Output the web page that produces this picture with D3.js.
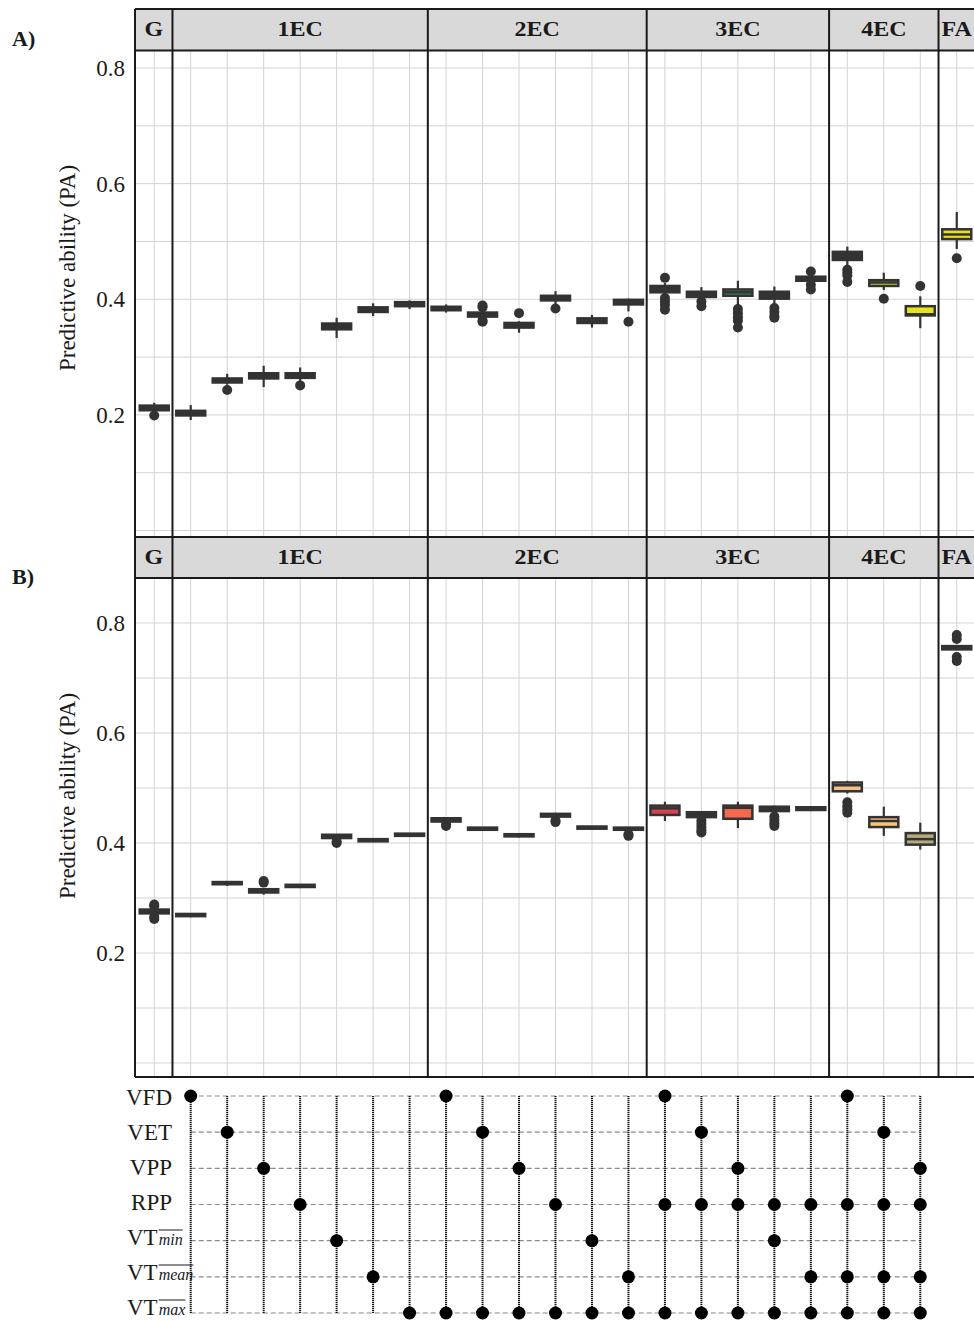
<!DOCTYPE html>
<html>
<head>
<meta charset="utf-8">
<style>
  body { margin: 0; background: #fff; }
  text { font-family: "Liberation Serif", "Times New Roman", serif; fill: #1a1a1a; }
</style>
</head>
<body>
<script src="https://d3js.org/d3.v7.min.js"></script>
<script>
// facet strips and how many boxes sit in each
const facets = ["G", "1EC", "2EC", "3EC", "4EC", "FA"];
const facetSizes = [1, 7, 6, 5, 3, 1];
const traits = ["VFD", "VET", "VPP", "RPP", "VTmin", "VTmean", "VTmax"];
const yTicks = [0.2, 0.4, 0.6, 0.8];

// trait combination behind each box (1EC..4EC columns)
const combos = [
  ["VFD"], ["VET"], ["VPP"], ["RPP"], ["VTmin"], ["VTmean"], ["VTmax"],
  ["VFD", "VTmax"], ["VET", "VTmax"], ["VPP", "VTmax"], ["RPP", "VTmax"], ["VTmin", "VTmax"], ["VTmean", "VTmax"],
  ["VFD", "RPP", "VTmax"], ["VET", "RPP", "VTmax"], ["VPP", "RPP", "VTmax"], ["RPP", "VTmin", "VTmax"], ["RPP", "VTmean", "VTmax"],
  ["VFD", "RPP", "VTmean", "VTmax"], ["VET", "RPP", "VTmean", "VTmax"], ["VPP", "RPP", "VTmean", "VTmax"]
];

// panel A: [low whisker, q1, median, q3, high whisker]
const boxesA = [
  [0.203, 0.208, 0.212, 0.216, 0.221],
  [0.191, 0.199, 0.203, 0.207, 0.217],
  [0.252, 0.256, 0.259, 0.263, 0.271],
  [0.248, 0.263, 0.267, 0.272, 0.285],
  [0.256, 0.264, 0.268, 0.272, 0.282],
  [0.333, 0.348, 0.353, 0.358, 0.368],
  [0.371, 0.378, 0.382, 0.386, 0.393],
  [0.383, 0.388, 0.391, 0.395, 0.398],
  [0.377, 0.381, 0.384, 0.387, 0.391],
  [0.366, 0.370, 0.373, 0.377, 0.380],
  [0.342, 0.351, 0.355, 0.359, 0.362],
  [0.391, 0.398, 0.402, 0.406, 0.414],
  [0.351, 0.359, 0.363, 0.367, 0.373],
  [0.379, 0.391, 0.395, 0.399, 0.401],
  [0.404, 0.412, 0.418, 0.423, 0.428],
  [0.399, 0.404, 0.409, 0.413, 0.421],
  [0.390, 0.406, 0.412, 0.417, 0.432],
  [0.390, 0.401, 0.406, 0.413, 0.422],
  [0.428, 0.432, 0.435, 0.439, 0.442],
  [0.458, 0.468, 0.476, 0.482, 0.491],
  [0.416, 0.423, 0.429, 0.433, 0.446],
  [0.350, 0.372, 0.374, 0.388, 0.405],
  [0.487, 0.504, 0.512, 0.521, 0.551]
];
const outliersA = [
  [0.199], [], [0.243], [], [0.251], [], [], [],
  [], [0.389, 0.386, 0.361, 0.363], [0.376], [0.384], [], [0.361],
  [0.437, 0.402, 0.396, 0.390, 0.382], [0.396, 0.388], [0.383, 0.376, 0.369, 0.363, 0.351], [0.385, 0.378, 0.371, 0.368], [0.448, 0.425, 0.417],
  [0.451, 0.446, 0.441, 0.430], [0.401], [0.423],
  [0.471]
];

// panel B
const boxesB = [
  [0.269, 0.272, 0.276, 0.279, 0.281],
  [0.265, 0.267, 0.269, 0.271, 0.272],
  [0.322, 0.325, 0.327, 0.329, 0.331],
  [0.306, 0.310, 0.313, 0.316, 0.318],
  [0.318, 0.320, 0.322, 0.324, 0.325],
  [0.406, 0.409, 0.412, 0.415, 0.416],
  [0.402, 0.403, 0.405, 0.407, 0.408],
  [0.412, 0.413, 0.415, 0.417, 0.418],
  [0.437, 0.439, 0.442, 0.445, 0.446],
  [0.422, 0.424, 0.426, 0.428, 0.429],
  [0.410, 0.412, 0.414, 0.416, 0.417],
  [0.445, 0.448, 0.451, 0.453, 0.455],
  [0.424, 0.426, 0.428, 0.430, 0.431],
  [0.421, 0.424, 0.426, 0.428, 0.429],
  [0.440, 0.451, 0.463, 0.468, 0.475],
  [0.443, 0.447, 0.452, 0.456, 0.458],
  [0.427, 0.444, 0.464, 0.468, 0.475],
  [0.456, 0.458, 0.462, 0.466, 0.468],
  [0.458, 0.460, 0.463, 0.465, 0.466],
  [0.490, 0.494, 0.505, 0.510, 0.513],
  [0.413, 0.429, 0.440, 0.447, 0.466],
  [0.388, 0.397, 0.407, 0.418, 0.437],
  [0.751, 0.752, 0.755, 0.758, 0.760]
];
const outliersB = [
  [0.288, 0.285, 0.266, 0.262], [], [], [0.331, 0.328], [], [0.400, 0.403], [], [],
  [0.431, 0.434], [], [], [0.438, 0.441], [], [0.413, 0.416],
  [], [0.441, 0.435, 0.429, 0.423, 0.419], [], [0.448, 0.442, 0.436, 0.431], [],
  [0.474, 0.467, 0.461, 0.455], [], [],
  [0.778, 0.771, 0.738, 0.731]
];

// box fill per column
const fillA = ["#333", "#333", "#333", "#333", "#333", "#333", "#333", "#333",
  "#333", "#333", "#333", "#333", "#333", "#333",
  "#333", "#333", "#3f8c55", "#333", "#333",
  "#333", "#c6d42c", "#e8e31b", "#e6dd1e"];
const fillB = ["#333", "#333", "#333", "#333", "#333", "#333", "#333", "#333",
  "#333", "#333", "#333", "#333", "#333", "#333",
  "#d8434f", "#333", "#f26a4b", "#333", "#333",
  "#f8bf86", "#fbc57a", "#b7ab7c", "#333"];

const W = 974, H = 1322;
const svg = d3.select("body").append("svg").attr("width", W).attr("height", H);

// one id per box column
const cols = [];
facets.forEach((f, i) => { for (let k = 0; k < facetSizes[i]; k++) cols.push(f + "-" + k); });
const x = d3.scaleBand().domain(cols).range([136, 975]);
const bw = x.bandwidth();
const cx = c => x(c) + bw / 2;
const boxW = 29;

// facet edges
const facetStart = [];
let idx = 0;
facets.forEach((f, i) => { facetStart.push(x(cols[idx])); idx += facetSizes[i]; });

function drawPanel(cfg) {
  const g = svg.append("g");
  const y = d3.scaleLinear().domain([0, 0.8]).range(cfg.yRange);

  // grid
  g.selectAll(".hg").data(d3.range(0, 9).map(d => d / 10)).join("line")
    .attr("x1", 135).attr("x2", 975)
    .attr("y1", d => y(d)).attr("y2", d => y(d))
    .attr("stroke", "#d3d3d3").attr("stroke-width", 1);
  g.selectAll(".vg").data(cols).join("line")
    .attr("x1", d => cx(d)).attr("x2", d => cx(d))
    .attr("y1", cfg.headBottom).attr("y2", cfg.bottom)
    .attr("stroke", "#d3d3d3").attr("stroke-width", 1);

  // boxes
  const bx = g.selectAll(".box").data(cols).join("g");
  bx.append("line")
    .attr("x1", d => cx(d)).attr("x2", d => cx(d))
    .attr("y1", (d, i) => y(cfg.boxes[i][0])).attr("y2", (d, i) => y(cfg.boxes[i][4]))
    .attr("stroke", "#333").attr("stroke-width", 2.2);
  bx.append("rect")
    .attr("x", d => cx(d) - boxW / 2).attr("width", boxW)
    .attr("y", (d, i) => y(cfg.boxes[i][3]))
    .attr("height", (d, i) => y(cfg.boxes[i][1]) - y(cfg.boxes[i][3]))
    .attr("fill", (d, i) => cfg.fills[i])
    .attr("stroke", "#333").attr("stroke-width", 2.5);
  bx.append("line")
    .attr("x1", d => cx(d) - boxW / 2).attr("x2", d => cx(d) + boxW / 2)
    .attr("y1", (d, i) => y(cfg.boxes[i][2])).attr("y2", (d, i) => y(cfg.boxes[i][2]))
    .attr("stroke", "#333").attr("stroke-width", 2.5);
  bx.each(function(d, i) {
    d3.select(this).selectAll("circle").data(cfg.outliers[i]).join("circle")
      .attr("cx", cx(d)).attr("cy", v => y(v)).attr("r", 5)
      .attr("fill", "#333");
  });

  // strip headers
  facets.forEach((f, i) => {
    const x0 = i === 0 ? 135 : facetStart[i];
    const x1 = facetStart[i] + facetSizes[i] * bw;
    g.append("rect").attr("x", x0).attr("y", cfg.headTop)
      .attr("width", x1 - x0).attr("height", cfg.headBottom - cfg.headTop)
      .attr("fill", "#d9d9d9");
    const tx = i === facets.length - 1 ? x0 + 3 : (x0 + x1) / 2;
    g.append("text")
      .attr("transform", `translate(${tx},${(cfg.headTop + cfg.headBottom) / 2 + 6}) scale(1.2,1)`)
      .attr("text-anchor", i === facets.length - 1 ? "start" : "middle")
      .attr("font-size", 20).attr("font-weight", "bold")
      .text(f);
  });

  // frame lines
  const frame = g.append("g").attr("stroke", "#1a1a1a").attr("stroke-width", 2);
  frame.append("line").attr("x1", 135).attr("x2", 975).attr("y1", cfg.headTop).attr("y2", cfg.headTop);
  frame.append("line").attr("x1", 135).attr("x2", 975).attr("y1", cfg.headBottom).attr("y2", cfg.headBottom);
  frame.append("line").attr("x1", 135).attr("x2", 975).attr("y1", cfg.bottom).attr("y2", cfg.bottom);
  frame.append("line").attr("x1", 135).attr("x2", 135).attr("y1", cfg.headTop).attr("y2", cfg.bottom);
  facetStart.slice(1).forEach(fx => {
    frame.append("line").attr("x1", fx).attr("x2", fx).attr("y1", cfg.headTop).attr("y2", cfg.bottom);
  });

  // y axis
  const ax = g.append("g").attr("transform", "translate(135,0)")
    .call(d3.axisLeft(y).tickValues(yTicks).tickSize(0).tickPadding(10).tickFormat(d3.format(".1f")));
  ax.select(".domain").remove();
  ax.selectAll("text").attr("font-size", 23).attr("font-family", "Liberation Serif").attr("fill", "#1a1a1a");

  g.append("text")
    .attr("transform", `translate(75,${cfg.labelY}) rotate(-90)`)
    .attr("text-anchor", "middle").attr("font-size", 23)
    .text("Predictive ability (PA)");

  g.append("text").attr("x", 12).attr("y", cfg.tagY)
    .attr("font-size", 22).attr("font-weight", "bold").text(cfg.tag);
}

drawPanel({ boxes: boxesA, outliers: outliersA, fills: fillA, yRange: [530.5, 68],
  headTop: 9, headBottom: 50.5, bottom: 537, labelY: 268, tag: "A)", tagY: 46 });
drawPanel({ boxes: boxesB, outliers: outliersB, fills: fillB, yRange: [1063, 623],
  headTop: 537, headBottom: 578, bottom: 1077, labelY: 796, tag: "B)", tagY: 584 });

// trait matrix under the panels
const yM = d3.scalePoint().domain(traits).range([1096, 1313]);
const yLab = d3.scalePoint().domain(traits).range([1105, 1315]);
const mCols = cols.slice(1, 1 + combos.length);
const m = svg.append("g");
m.selectAll(".mh").data(traits).join("line")
  .attr("x1", cx(mCols[0])).attr("x2", cx(mCols[mCols.length - 1]))
  .attr("y1", d => yM(d)).attr("y2", d => yM(d))
  .attr("stroke", "#8a8a8a").attr("stroke-width", 1.2).attr("stroke-dasharray", "5,3");
m.selectAll(".mv").data(mCols).join("line")
  .attr("x1", d => cx(d)).attr("x2", d => cx(d))
  .attr("y1", yM(traits[0])).attr("y2", yM(traits[traits.length - 1]))
  .attr("stroke", "#111").attr("stroke-width", 2).attr("stroke-dasharray", "1.2,0.8");
mCols.forEach((c, i) => {
  m.selectAll(null).data(combos[i]).join("circle")
    .attr("cx", cx(c)).attr("cy", t => yM(t)).attr("r", 6.5).attr("fill", "#000");
});

// row labels, VT ones with an overlined italic suffix
traits.forEach(t => {
  const yy = yLab(t);
  if (t.startsWith("VT")) {
    const base = m.append("text").attr("x", 127).attr("y", yy).attr("font-size", 23).text("VT");
    const w = base.node().getComputedTextLength();
    const sub = m.append("text").attr("x", 127 + w + 1).attr("y", yy)
      .attr("font-size", 16).attr("font-style", "italic").text(t.slice(2));
    const sw = sub.node().getComputedTextLength();
    m.append("line").attr("x1", 127 + w + 1).attr("x2", 127 + w + 1 + sw)
      .attr("y1", yy - 15).attr("y2", yy - 15).attr("stroke", "#1a1a1a").attr("stroke-width", 1);
  } else {
    m.append("text").attr("x", 172).attr("y", yy).attr("text-anchor", "end")
      .attr("font-size", 23).text(t);
  }
});
</script>
</body>
</html>
